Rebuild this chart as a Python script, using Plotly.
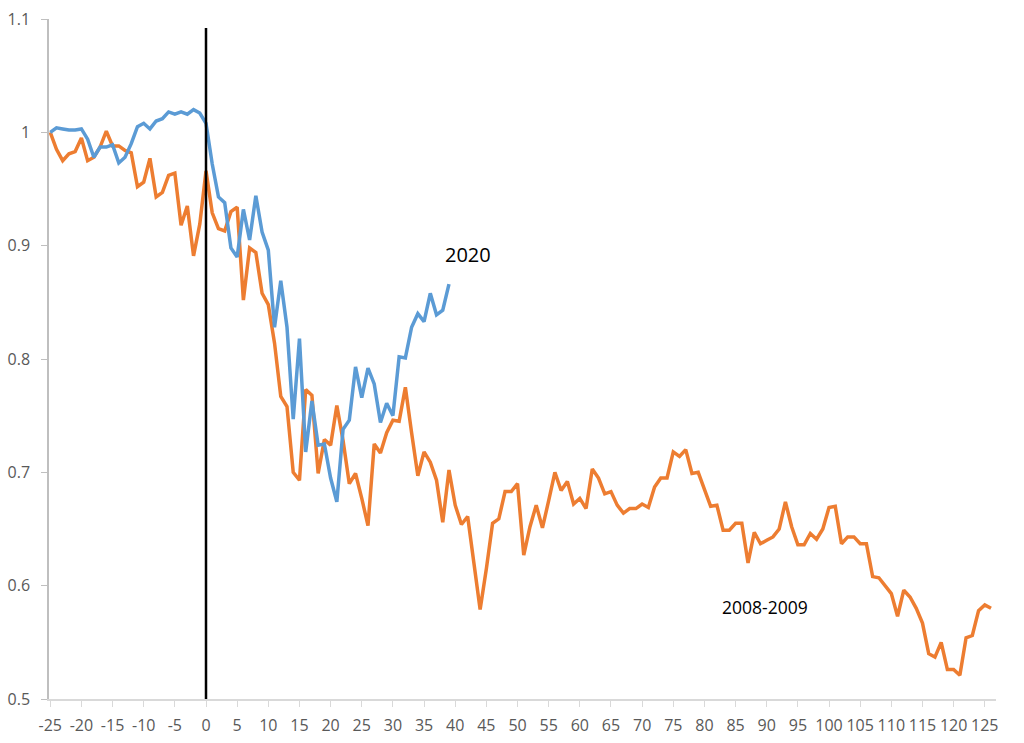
import plotly.graph_objects as go

# ---- data ----
t_2008 = list(range(-25, 127))
v_2008 = [
    1.000, 0.985, 0.975, 0.981, 0.983, 0.995, 0.975, 0.978, 0.987, 1.001,
    0.988, 0.988, 0.984, 0.982, 0.952, 0.956, 0.977, 0.943, 0.947, 0.962,
    0.964, 0.918, 0.935, 0.891, 0.919, 0.966, 0.929, 0.915, 0.913, 0.930,
    0.934, 0.852, 0.898, 0.894, 0.858, 0.848, 0.814, 0.767, 0.758, 0.700,
    0.693, 0.773, 0.768, 0.699, 0.729, 0.724, 0.759, 0.728, 0.690, 0.699,
    0.677, 0.653, 0.725, 0.717, 0.735, 0.746, 0.745, 0.775, 0.735, 0.697,
    0.718, 0.709, 0.693, 0.656, 0.702, 0.671, 0.654, 0.661, 0.620, 0.579,
    0.615, 0.655, 0.659, 0.683, 0.683, 0.690, 0.627, 0.652, 0.671, 0.651,
    0.675, 0.700, 0.684, 0.692, 0.672, 0.677, 0.668, 0.703, 0.695, 0.681,
    0.683, 0.671, 0.664, 0.668, 0.668, 0.672, 0.669, 0.687, 0.695, 0.695,
    0.718, 0.714, 0.720, 0.699, 0.700, 0.685, 0.670, 0.671, 0.649, 0.649,
    0.655, 0.655, 0.620, 0.647, 0.637, 0.640, 0.643, 0.650, 0.674, 0.652,
    0.636, 0.636, 0.646, 0.641, 0.650, 0.669, 0.670, 0.637, 0.643, 0.643,
    0.637, 0.637, 0.608, 0.607, 0.600, 0.593, 0.573, 0.596, 0.590, 0.580,
    0.567, 0.540, 0.537, 0.550, 0.526, 0.526, 0.521, 0.554, 0.556, 0.578,
    0.583, 0.580,
]

t_2020 = list(range(-25, 40))
v_2020 = [
    1.000, 1.004, 1.003, 1.002, 1.002, 1.003, 0.994, 0.978, 0.987, 0.987,
    0.989, 0.973, 0.978, 0.990, 1.005, 1.008, 1.003, 1.010, 1.012, 1.018,
    1.016, 1.018, 1.016, 1.020, 1.017, 1.008, 0.972, 0.943, 0.938, 0.898,
    0.890, 0.932, 0.905, 0.944, 0.912, 0.896, 0.828, 0.869, 0.828, 0.747,
    0.818, 0.718, 0.763, 0.724, 0.725, 0.695, 0.674, 0.738, 0.746, 0.793,
    0.766, 0.792, 0.778, 0.744, 0.761, 0.750, 0.802, 0.801, 0.828, 0.840,
    0.833, 0.858, 0.839, 0.843, 0.866,
]

x_ticks = list(range(-25, 130, 5))
x_ticktext = [str(v) for v in x_ticks]
y_ticks = [0.5, 0.6, 0.7, 0.8, 0.9, 1.0, 1.1]
y_ticktext = ["0.5", "0.6", "0.7", "0.8", "0.9", "1", "1.1"]

event_x = 0
event_top = 1.092

BLUE = "#5B9BD5"
ORANGE = "#ED7D31"
FONT = "Open Sans"

fig = go.Figure()
fig.add_trace(go.Scatter(x=t_2008, y=v_2008, mode="lines", name="2008-2009",
                         line=dict(color=ORANGE, width=3.5)))
fig.add_trace(go.Scatter(x=t_2020, y=v_2020, mode="lines", name="2020",
                         line=dict(color=BLUE, width=3.5)))

fig.add_shape(type="line", x0=event_x, x1=event_x, y0=0.5, y1=event_top,
              xref="x", yref="y", line=dict(color="black", width=2.5), layer="above")

fig.add_annotation(x=42.1, y=0.892, text="2020", showarrow=False,
                   xanchor="center", yanchor="middle",
                   font=dict(family=FONT, size=20, color="black"))
fig.add_annotation(x=89.7, y=0.581, text="2008-2009", showarrow=False,
                   xanchor="center", yanchor="middle",
                   font=dict(family=FONT, size=17.5, color="black"))

fig.update_layout(
    width=1024, height=743,
    margin=dict(l=49, r=28, t=19, b=44, autoexpand=False),
    plot_bgcolor="white", paper_bgcolor="white",
    showlegend=False,
    font=dict(family=FONT, size=16, color="#595959"),
    xaxis=dict(range=[-25.2, 126.8], tickvals=x_ticks, ticktext=x_ticktext,
               showgrid=False, zeroline=False, showline=True, automargin=False,
               linecolor="#d9d9d9", linewidth=1.5, ticks="outside",
               ticklen=6, tickcolor="#d9d9d9", ticklabelstandoff=5,
               tickfont=dict(size=16, color="#595959")),
    yaxis=dict(range=[0.5, 1.1], tickvals=y_ticks, ticktext=y_ticktext,
               showgrid=False, zeroline=False, showline=True, automargin=False,
               linecolor="#bfbfbf", linewidth=1.5, ticks="outside",
               ticklen=6, tickcolor="#bfbfbf", ticklabelstandoff=8,
               tickfont=dict(size=16, color="#595959")),
)

fig.write_html("out.html")
